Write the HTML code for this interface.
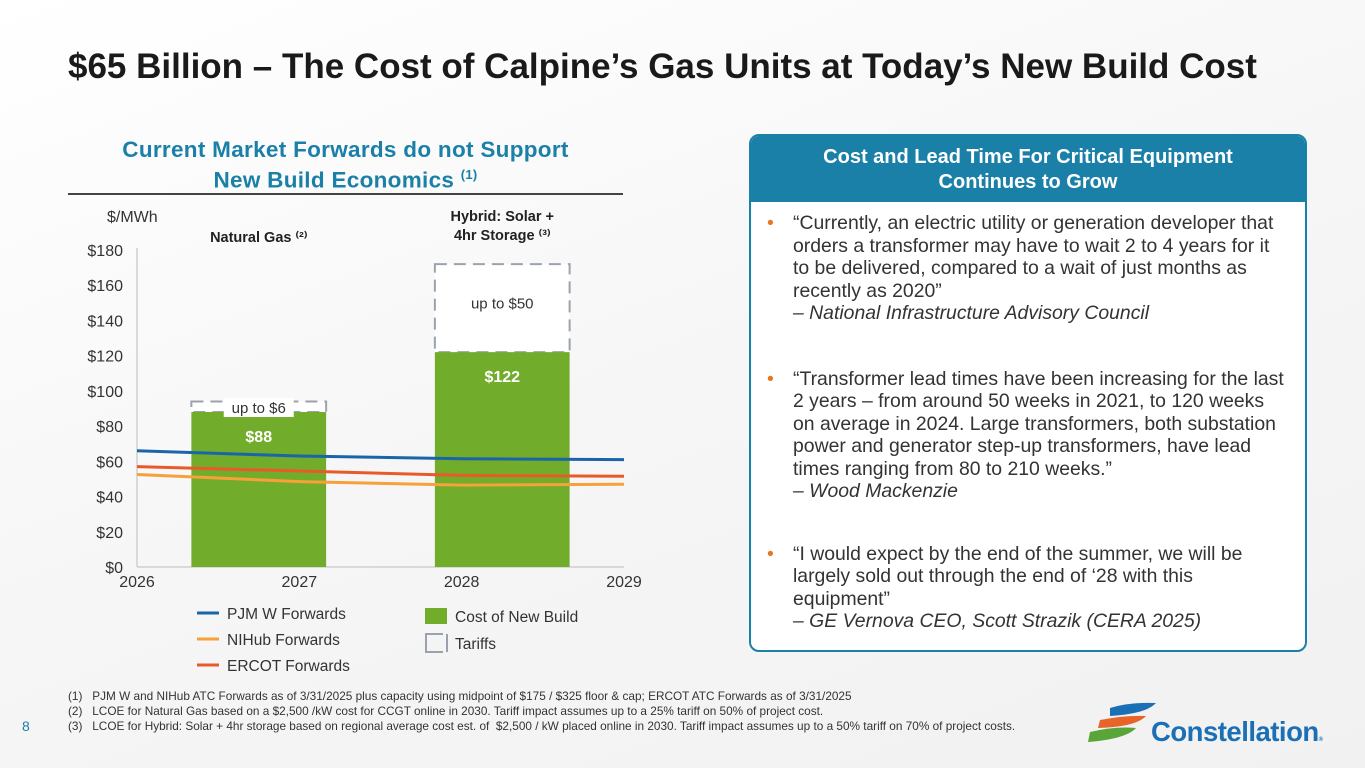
<!DOCTYPE html>
<html><head><meta charset="utf-8">
<style>
body{margin:0;width:1365px;height:768px;overflow:hidden;background:linear-gradient(160deg,#ffffff 0%,#f6f6f6 50%,#f1f1f1 100%);font-family:"Liberation Sans",sans-serif;position:relative;color:#222}
.abs{position:absolute}
h1{position:absolute;left:68px;top:47px;margin:0;font-size:35px;font-weight:bold;color:#1a1a1a;letter-spacing:0px;white-space:nowrap}
.sub{left:60px;top:137px;width:571px;text-align:center;color:#1b80a8;font-weight:bold;font-size:22.5px;line-height:25px;letter-spacing:0.3px}
.card{left:749px;top:134px;width:554px;height:514px;border:2px solid #1b80a8;border-radius:10px;background:#fff;overflow:hidden}
.card .hd{background:#1b80a8;color:#fff;font-weight:bold;font-size:20px;text-align:center;line-height:25px;padding:9px 0 7px}
.card ul{margin:0;padding:0 0 0 42px;list-style:none}
.card li{position:relative;font-size:19.4px;line-height:22.5px;color:#333;margin-top:12px;padding-right:18px}
.card li:before{content:"•";position:absolute;left:-26px;color:#e87722}
.fn{left:68px;top:689px;font-size:11.8px;line-height:15px;color:#333;white-space:nowrap}
</style></head><body>
<h1>$65 Billion – The Cost of Calpine’s Gas Units at Today’s New Build Cost</h1>
<div class="abs sub">Current Market Forwards do not Support<br>New Build Economics <sup style="font-size:13px">(1)</sup></div>
<div class="abs" style="left:68px;top:193px;width:555px;height:2px;background:#444"></div>

<svg class="abs" style="left:0;top:0" width="700" height="690" id="chart"></svg>

<div class="abs card">
<div class="hd">Cost and Lead Time For Critical Equipment<br>Continues to Grow</div>
<ul>
<li style="margin-top:10px">“Currently, an electric utility or generation developer that orders a transformer may have to wait 2 to 4 years for it to be delivered, compared to a wait of just months as recently as 2020”<br><i>– National Infrastructure Advisory Council</i></li>
<li style="margin-top:43px">“Transformer lead times have been increasing for the last 2 years – from around 50 weeks in 2021, to 120 weeks on average in 2024. Large transformers, both substation power and generator step-up transformers, have lead times ranging from 80 to 210 weeks.”<br><i>– Wood Mackenzie</i></li>
<li style="margin-top:40px">“I would expect by the end of the summer, we will be largely sold out through the end of ‘28 with this equipment”<br><i>– GE Vernova CEO, Scott Strazik (CERA 2025)</i></li>
</ul></div>

<div class="abs" style="left:22px;top:718px;font-size:14px;color:#1b80a8">8</div>
<div class="abs fn">(1)&nbsp;&nbsp;&nbsp;PJM W and NIHub ATC Forwards as of 3/31/2025 plus capacity using midpoint of $175 / $325 floor &amp; cap; ERCOT ATC Forwards as of 3/31/2025<br>(2)&nbsp;&nbsp;&nbsp;LCOE for Natural Gas based on a $2,500 /kW cost for CCGT online in 2030. Tariff impact assumes up to a 25% tariff on 50% of project cost.<br>(3)&nbsp;&nbsp;&nbsp;LCOE for Hybrid: Solar + 4hr storage based on regional average cost est. of&nbsp; $2,500 / kW placed online in 2030. Tariff impact assumes up to a 50% tariff on 70% of project costs.</div>

<div class="abs" style="left:1080px;top:700px">
<svg width="80" height="50" style="position:absolute;left:0;top:0">
<path d="M30 8 Q50 2 76 3 Q66 14 30 16 Z" fill="#1b6fb5"/>
<path d="M20 20 Q45 15 66 16 Q56 27 18 28 Z" fill="#e8652a"/>
<path d="M10 32 Q35 26 56 28 Q46 39 8 42 Z" fill="#5aa537"/>
</svg>
<div style="position:absolute;left:71px;top:16px;font-size:27.5px;font-weight:bold;color:#1b6fb5;letter-spacing:-0.5px">Constellation<span style="font-size:6px">®</span></div>
</div>

<script>
const years=[2026,2027,2028,2029];
const yTicks=[0,20,40,60,80,100,120,140,160,180];
const barCats=["Natural Gas","Hybrid"];
const barPos=[2026.75,2028.25];
const barVals=[88,122];
const tariffVals=[6,50];
const tariffLabels=["up to $6","up to $50"];
const pjm=[66,63,61.5,61];
const nihub=[52.5,48.5,46.5,47];
const ercot=[57,54.5,52,51.5];
const svg=document.getElementById('chart');
const NS='http://www.w3.org/2000/svg';
const x0=137,x1=624,yb=567,yt=250;
const X=v=>x0+(v-2026)/(2029-2026)*(x1-x0);
const Y=v=>yb-v/180*(yb-yt);
function mk(t,a,txt){const e=document.createElementNS(NS,t);for(const k in a)e.setAttribute(k,a[k]);if(txt!==undefined)e.textContent=txt;svg.appendChild(e);return e;}
let e;
e=mk('line',{x1:x0,y1:yt-2,x2:x0,y2:yb,stroke:'#cfcfcf','stroke-width':1.5});

e=mk('line',{x1:x0,y1:yb,x2:x1,y2:yb,stroke:'#cfcfcf','stroke-width':1.5});

yTicks.forEach(v=>{
 const t=mk('text',{x:x0-14,y:Y(v)+6,'text-anchor':'end','font-size':16,fill:'#333','font-family':'Liberation Sans'},'$'+v);
 
});
years.forEach(v=>{
 const t=mk('text',{x:X(v),y:yb+20,'text-anchor':'middle','font-size':16,fill:'#333','font-family':'Liberation Sans'},String(v));
 
});
e=mk('text',{x:107,y:222,'font-size':16,fill:'#333','font-family':'Liberation Sans'},'$/MWh');

const bw=(x1-x0)/3*0.83;
barPos.forEach((p,i)=>{
 const cx=X(p);
 const top=Y(barVals[i]+tariffVals[i]);
 const r=mk('rect',{x:cx-bw/2,y:top,width:bw,height:Y(barVals[i])-top,fill:'#fff',stroke:'#9aa3ad','stroke-width':2,'stroke-dasharray':'12,7'});
 
 const b=mk('rect',{x:cx-bw/2,y:Y(barVals[i]),width:bw,height:yb-Y(barVals[i]),fill:'#72ac2b'});
 
 const l=mk('text',{x:cx,y:Y(barVals[i])+30,'text-anchor':'middle','font-size':16,'font-weight':'bold',fill:'#fff','font-family':'Liberation Sans'},'$'+barVals[i]);
 
});
const tl0=mk('rect',{x:X(barPos[0])-35,y:Y(barVals[0])-14,width:70,height:19,fill:'#fff'});

e=mk('text',{x:X(barPos[0]),y:Y(barVals[0])+1,'text-anchor':'middle','font-size':15,fill:'#333','font-family':'Liberation Sans'},tariffLabels[0]);

e=mk('text',{x:X(barPos[1]),y:Y(barVals[1]+tariffVals[1]*0.55)+5,'text-anchor':'middle','font-size':15,fill:'#333','font-family':'Liberation Sans'},tariffLabels[1]);

function line(vals,col,name){
 let d='';vals.forEach((v,i)=>{d+=(i?'L':'M')+X(years[i])+','+Y(v);});
 const p=mk('path',{d:d,fill:'none',stroke:col,'stroke-width':3});
 
}
line(nihub,'#f6a13a','line-nihub');
line(ercot,'#e95a2a','line-ercot');
line(pjm,'#1a65a8','line-pjm');
e=mk('text',{x:X(barPos[0]),y:242,'text-anchor':'middle','font-size':14.5,'font-weight':'bold',fill:'#222','font-family':'Liberation Sans'},'Natural Gas ⁽²⁾');

e=mk('text',{x:X(barPos[1]),y:221,'text-anchor':'middle','font-size':14.5,'font-weight':'bold',fill:'#222','font-family':'Liberation Sans'},'Hybrid: Solar +');

e=mk('text',{x:X(barPos[1]),y:240,'text-anchor':'middle','font-size':14.5,'font-weight':'bold',fill:'#222','font-family':'Liberation Sans'},'4hr Storage ⁽³⁾');

const leg=[['PJM W Forwards','#1a65a8',614],['NIHub Forwards','#f6a13a',640],['ERCOT Forwards','#e95a2a',666]];
leg.forEach(l=>{
 const a=mk('line',{x1:197,y1:l[2]-1,x2:219,y2:l[2]-1,stroke:l[1],'stroke-width':3});
 
 const t=mk('text',{x:227,y:l[2]+5,'font-size':15.5,fill:'#333','font-family':'Liberation Sans'},l[0]);
 
});
e=mk('rect',{x:425,y:608,width:22,height:16,fill:'#72ac2b'});

e=mk('text',{x:455,y:622,'font-size':15.5,fill:'#333','font-family':'Liberation Sans'},'Cost of New Build');

e=mk('path',{d:'M443,634 L426,634 L426,652 L443,652 M447,634 L447,652',fill:'none',stroke:'#9aa3ad','stroke-width':2});

e=mk('text',{x:455,y:649,'font-size':15.5,fill:'#333','font-family':'Liberation Sans'},'Tariffs');

</script>
</body></html>
